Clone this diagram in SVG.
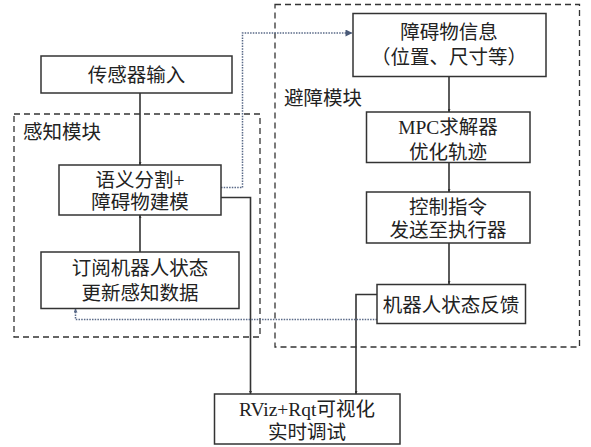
<svg xmlns="http://www.w3.org/2000/svg" width="591" height="447" viewBox="0 0 591 447">
<defs>
<style>
.box{fill:#fff;stroke:#333;stroke-width:1.5}
.grp{fill:none;stroke:#333;stroke-width:1.3;stroke-dasharray:6 4}
.t{font-family:"Liberation Serif","Noto Sans CJK SC",serif;font-size:19.5px;fill:#222;text-anchor:middle}
.lbl{font-family:"Liberation Serif","Noto Sans CJK SC",serif;font-size:19.5px;fill:#222}
.ln{fill:none;stroke:#333;stroke-width:1.6}
.dot{fill:none;stroke:#5a6a88;stroke-width:1.5;stroke-dasharray:1.5 1.2}
</style>
<marker id="a" viewBox="0 0 6 6" refX="6" refY="3" markerWidth="3" markerHeight="3" orient="auto" markerUnits="userSpaceOnUse"><path d="M0,0L6,3L0,6z" fill="#333"/></marker>
<marker id="ab" viewBox="0 0 8 8" refX="8" refY="4" markerWidth="8" markerHeight="7" orient="auto" markerUnits="userSpaceOnUse"><path d="M0,0L8,4L0,8z" fill="#4a5a78"/></marker>
<marker id="as" viewBox="0 0 6 6" refX="6" refY="3" markerWidth="4" markerHeight="4" orient="auto" markerUnits="userSpaceOnUse"><path d="M0,0L6,3L0,6z" fill="#5a6a88"/></marker>
</defs>
<rect width="591" height="447" fill="#fff"/>
<g id="perception-module">
<rect class="grp" x="14" y="114" width="246" height="223"/>
<text class="lbl" x="23" y="139">感知模块</text>
</g>
<g id="avoidance-module">
<rect class="grp" x="275" y="4.5" width="304.5" height="342.5"/>
<text class="lbl" x="284" y="105">避障模块</text>
</g>
<g id="connectors">
<path class="ln" d="M140,93V165" marker-end="url(#a)"/>
<path class="ln" d="M140,252V215" marker-end="url(#a)"/>
<path class="ln" d="M221,197.5H250.5V394" marker-end="url(#a)"/>
<path class="dot" d="M221,187.5H242.5V33H352.5" marker-end="url(#ab)"/>
<path class="ln" d="M449,76.5V112" marker-end="url(#a)"/>
<path class="ln" d="M449,162.5V192" marker-end="url(#a)"/>
<path class="ln" d="M449,243V284" marker-end="url(#a)"/>
<path class="ln" d="M377,294.5H356V394" marker-end="url(#a)"/>
<path class="dot" d="M377,319.5H75.5V308.5" marker-end="url(#as)"/>
</g>
<g id="sensor-input">
<rect class="box" x="41" y="56" width="191" height="37"/>
<text class="t" x="136.5" y="82">传感器输入</text>
</g>
<g id="segmentation">
<rect class="box" x="59" y="165" width="162" height="50"/>
<text class="t" x="140" y="187">语义分割+</text>
<text class="t" x="140" y="209">障碍物建模</text>
</g>
<g id="subscribe-state">
<rect class="box" x="41" y="252" width="198" height="56.5"/>
<text class="t" x="140" y="275">订阅机器人状态</text>
<text class="t" x="140" y="300">更新感知数据</text>
</g>
<g id="obstacle-info">
<rect class="box" x="353" y="13.5" width="193" height="63"/>
<text class="t" x="449" y="39">障碍物信息</text>
<text class="t" x="449" y="63.5">（位置、尺寸等）</text>
</g>
<g id="mpc-solver">
<rect class="box" x="366.5" y="112" width="163.5" height="50.5"/>
<text class="t" x="448" y="133.5">MPC求解器</text>
<text class="t" x="448" y="158.5">优化轨迹</text>
</g>
<g id="control-cmd">
<rect class="box" x="366.5" y="192" width="163.5" height="51"/>
<text class="t" x="448" y="213.5">控制指令</text>
<text class="t" x="448" y="237">发送至执行器</text>
</g>
<g id="state-feedback">
<rect class="box" x="377" y="284.5" width="148.5" height="39"/>
<text class="t" x="451" y="312">机器人状态反馈</text>
</g>
<g id="rviz">
<rect class="box" x="214.5" y="394" width="185.5" height="50"/>
<text class="t" x="307" y="416">RViz+Rqt可视化</text>
<text class="t" x="307" y="438.5">实时调试</text>
</g>
</svg>
